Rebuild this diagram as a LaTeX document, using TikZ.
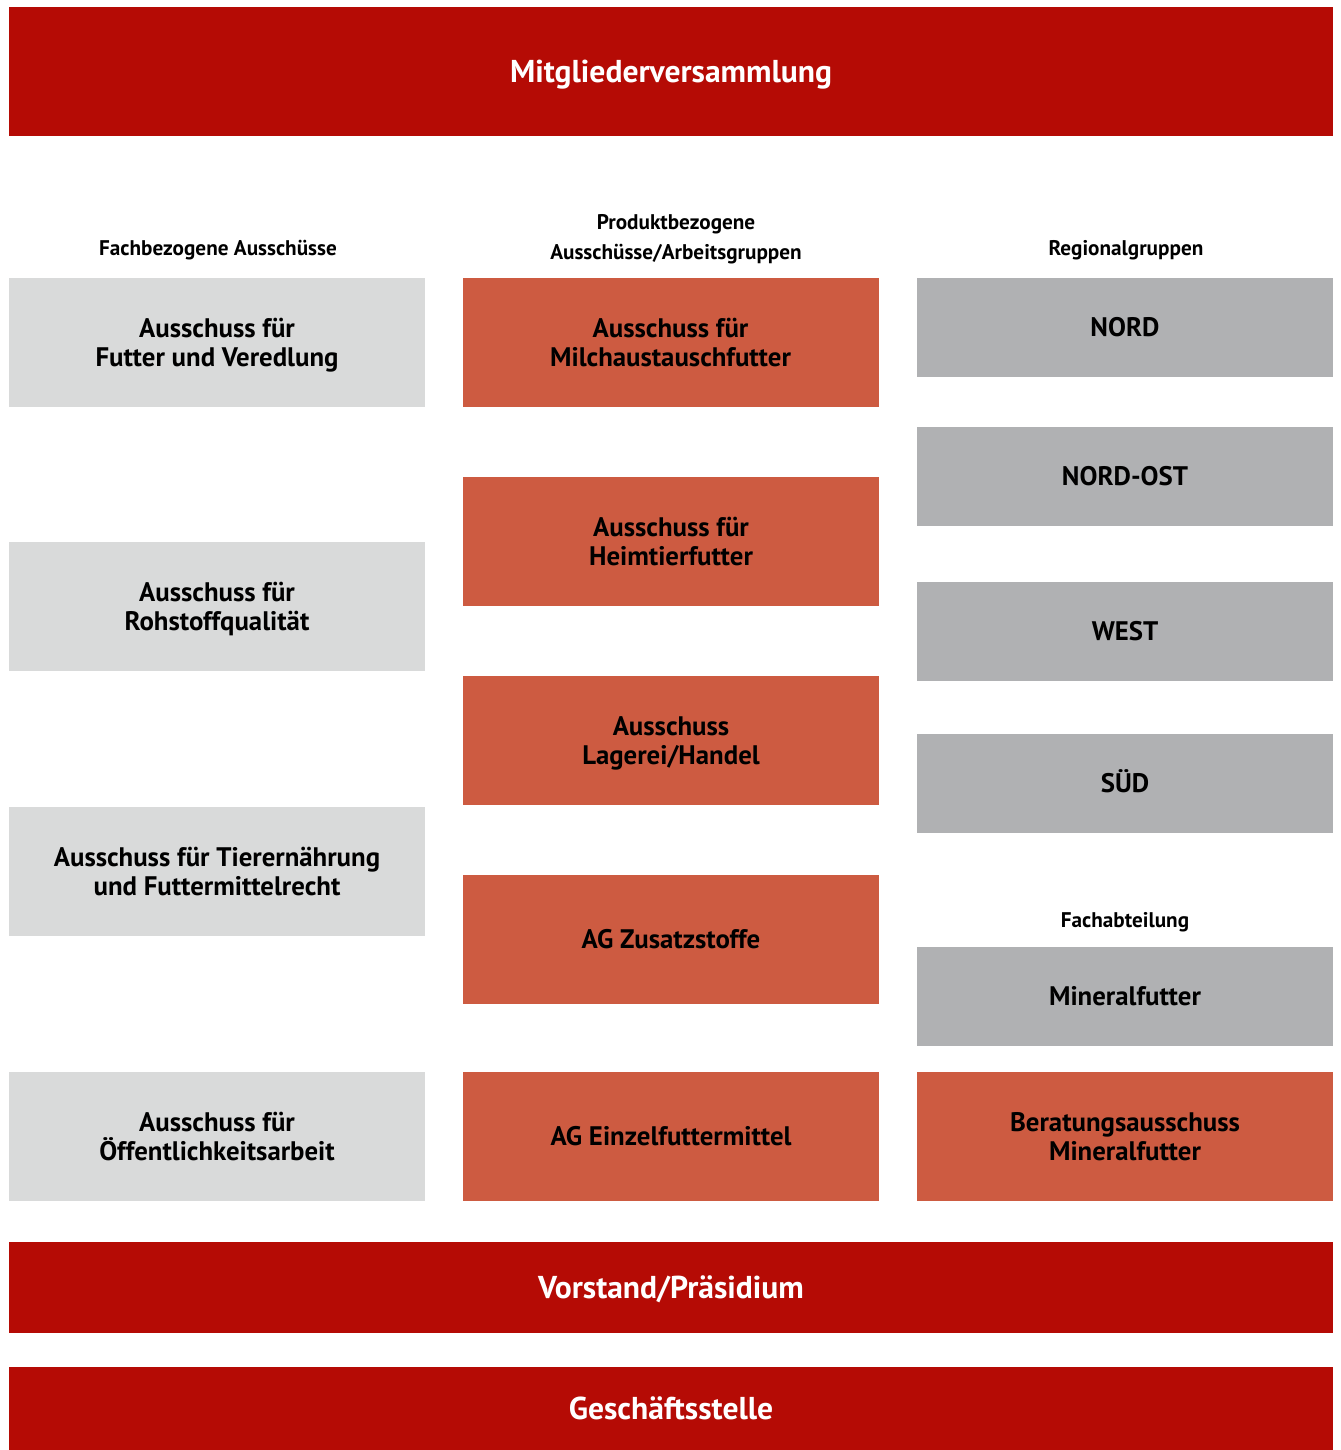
\documentclass[tikz,border=0pt]{standalone}
\usepackage{fontspec}
\setmainfont{PT Sans}
\usepackage{tikz}
\usetikzlibrary{positioning}

\definecolor{dvtred}{RGB}{181, 11, 5}
\definecolor{produktorange}{RGB}{205, 91, 65}
\definecolor{fachgray}{RGB}{217, 218, 218}
\definecolor{regiongray}{RGB}{176, 177, 179}

\begin{document}
\begin{tikzpicture}[x=0.5pt, y=-0.5pt,
  box/.style={fill=#1, minimum width=208pt, minimum height=64.5pt, align=center, font=\fontsize{13.4}{14.5}\selectfont\bfseries, inner sep=0pt, text height=9.4pt, text depth=0pt},
  twoline/.style={text height=23.9pt},
  regbox/.style={box=regiongray, minimum height=49.5pt},
  bar/.style={fill=dvtred, text=white, minimum width=662pt, align=center, font=\fontsize{15.8}{18}\selectfont\bfseries, inner sep=0pt, text height=11.1pt, text depth=0pt},
  colhead/.style={align=center, font=\fontsize{10.6}{15}\selectfont\bfseries},
]
  \useasboundingbox (0, 0) rectangle (1340, 1450);

  % Versammlung oben
  \node[bar, minimum height=64.5pt] (mv) at (671, 71.5) {Mitgliederversammlung};

  % Spaltenköpfe
  \node[colhead] (hfach) at (218, 250) {Fachbezogene Ausschüsse};
  \node[colhead] (hprod) at (676, 239) {Produktbezogene\\Ausschüsse/Arbeitsgruppen};
  \node[colhead] (hreg) at (1126, 250) {Regionalgruppen};

  % Fachbezogene Ausschüsse
  \node[box=fachgray, twoline] (futter) at (217, 342.5) {Ausschuss für\\Futter und Veredlung};
  \node[box=fachgray, twoline] (rohstoff) at (217, 606.5) {Ausschuss für\\Rohstoffqualität};
  \node[box=fachgray, twoline] (tier) at (217, 871.5) {Ausschuss für Tierernährung\\und Futtermittelrecht};
  \node[box=fachgray, twoline] (oeff) at (217, 1136.5) {Ausschuss für\\Öffentlichkeitsarbeit};

  % Produktbezogene Ausschüsse/Arbeitsgruppen
  \node[box=produktorange, twoline] (milch) at (670.5, 342.5) {Ausschuss für\\Milchaustauschfutter};
  \node[box=produktorange, twoline] (heim) at (671, 541.5) {Ausschuss für\\Heimtierfutter};
  \node[box=produktorange, twoline] (lager) at (671, 740.5) {Ausschuss\\Lagerei/Handel};
  \node[box=produktorange] (zusatz) at (671, 939.5) {AG Zusatzstoffe};
  \node[box=produktorange] (einzel) at (671, 1136.5) {AG Einzelfuttermittel};

  % Regionalgruppen
  \node[regbox] (nord) at (1125, 327.5) {NORD};
  \node[regbox] (nordost) at (1125, 476.5) {NORD-OST};
  \node[regbox] (west) at (1125, 631.5) {WEST};
  \node[regbox] (sued) at (1125, 783.5) {SÜD};

  % Fachabteilung
  \node[colhead] (habt) at (1125, 922) {Fachabteilung};
  \node[regbox] (mineral) at (1125, 996.5) {Mineralfutter};
  \node[box=produktorange, twoline] (beratung) at (1125, 1136.5) {Beratungsausschuss\\Mineralfutter};

  % Vorstand und Geschäftsstelle
  \node[bar, minimum height=45.5pt] (vorstand) at (671, 1287.5) {Vorstand/Präsidium};
  \node[bar, minimum height=41.5pt] (gs) at (671, 1408.5) {Geschäftsstelle};
\end{tikzpicture}
\end{document}
